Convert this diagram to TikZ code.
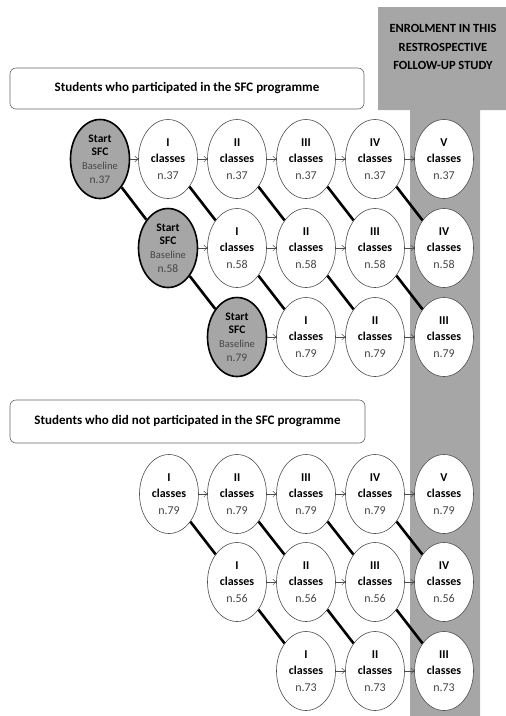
\documentclass[tikz,border=0pt]{standalone}
\usepackage{fontspec}
\setmainfont{Carlito}
\usetikzlibrary{shapes.geometric,arrows.meta}

\definecolor{colgrey}{RGB}{166,166,166}
\definecolor{coltext}{RGB}{70,70,70}

\newcommand{\yrtext}[2]{\textbf{#1}\\\textbf{classes}\\{\color{coltext}n.#2}}
\newcommand{\sfctext}[1]{\textbf{Start}\\\textbf{SFC}\\{\color{coltext}\fontsize{10.5}{13.7}\selectfont Baseline}\\{\color{coltext}n.#1}}

\tikzset{
	yr/.style={ellipse, draw=black!70, line width=0.6pt, fill=white, minimum width=59pt, minimum height=79pt, inner sep=0pt, align=center, font=\fontsize{12}{16.5}\selectfont},
	startyr/.style={yr, draw=black, line width=1.6pt, fill=colgrey, font=\fontsize{11.5}{13.7}\selectfont},
	grouphead/.style={draw=black!60, line width=0.6pt, fill=white, rounded corners=6pt, inner sep=0pt, font=\bfseries\fontsize{13}{15}\selectfont},
	nextyr/.style={-{Straight Barb[length=3pt,width=6pt]}, draw=black!70, line width=0.5pt},
	cohort/.style={draw=black, line width=2.6pt},
}

\begin{document}
\begin{tikzpicture}[x=1pt,y=-1pt]
					\useasboundingbox (0,0) rectangle (506,716);
					\fill[colgrey] (378,7) -- (506,7) -- (506,110) -- (480,110) -- (480,716) -- (410,716) -- (410,110) -- (378,110) -- cycle; % Follow-up column.
					\node[align=center, font=\bfseries\fontsize{12.5}{18.5}\selectfont] (enrol) at (443,47) {ENROLMENT IN THIS\\RESTROSPECTIVE\\FOLLOW-UP STUDY};
					
					\node[grouphead, minimum width=354pt, minimum height=41pt] (grpa) at (187,88.5) {Students who participated in the SFC programme};
					\node[grouphead, minimum width=355pt, minimum height=43pt] (grpb) at (187.5,421.5) {Students who did not participated in the SFC programme};
					
					% SFC cohorts.
					\node[startyr] (a0) at (100,159) {\sfctext{37}};
					\node[yr] (a1) at (168,159) {\yrtext{I}{37}};
					\node[yr] (a2) at (237,159) {\yrtext{II}{37}};
					\node[yr] (a3) at (306,159) {\yrtext{III}{37}};
					\node[yr] (a4) at (375,159) {\yrtext{IV}{37}};
					\node[yr] (a5) at (444,159) {\yrtext{V}{37}};
					
					\node[startyr] (b1) at (168,248) {\sfctext{58}};
					\node[yr] (b2) at (237,248) {\yrtext{I}{58}};
					\node[yr] (b3) at (306,248) {\yrtext{II}{58}};
					\node[yr] (b4) at (375,248) {\yrtext{III}{58}};
					\node[yr] (b5) at (444,248) {\yrtext{IV}{58}};
					
					\node[startyr] (c2) at (237,337) {\sfctext{79}};
					\node[yr] (c3) at (306,337) {\yrtext{I}{79}};
					\node[yr] (c4) at (375,337) {\yrtext{II}{79}};
					\node[yr] (c5) at (444,337) {\yrtext{III}{79}};
					
					% Control cohorts.
					\node[yr] (d1) at (169,494) {\yrtext{I}{79}};
					\node[yr] (d2) at (237,494) {\yrtext{II}{79}};
					\node[yr] (d3) at (306,494) {\yrtext{III}{79}};
					\node[yr] (d4) at (375,494) {\yrtext{IV}{79}};
					\node[yr] (d5) at (444,494) {\yrtext{V}{79}};
					
					\node[yr] (e2) at (237,582) {\yrtext{I}{56}};
					\node[yr] (e3) at (306,582) {\yrtext{II}{56}};
					\node[yr] (e4) at (375,582) {\yrtext{III}{56}};
					\node[yr] (e5) at (444,582) {\yrtext{IV}{56}};
					
					\node[yr] (f3) at (306,671) {\yrtext{I}{73}};
					\node[yr] (f4) at (375,671) {\yrtext{II}{73}};
					\node[yr] (f5) at (444,671) {\yrtext{III}{73}};
					
					\draw[nextyr] (a0) -- (a1); \draw[nextyr] (a1) -- (a2); \draw[nextyr] (a2) -- (a3); \draw[nextyr] (a3) -- (a4); \draw[nextyr] (a4) -- (a5);
					\draw[nextyr] (b1) -- (b2); \draw[nextyr] (b2) -- (b3); \draw[nextyr] (b3) -- (b4); \draw[nextyr] (b4) -- (b5);
					\draw[nextyr] (c2) -- (c3); \draw[nextyr] (c3) -- (c4); \draw[nextyr] (c4) -- (c5);
					\draw[nextyr] (d1) -- (d2); \draw[nextyr] (d2) -- (d3); \draw[nextyr] (d3) -- (d4); \draw[nextyr] (d4) -- (d5);
					\draw[nextyr] (e2) -- (e3); \draw[nextyr] (e3) -- (e4); \draw[nextyr] (e4) -- (e5);
					\draw[nextyr] (f3) -- (f4); \draw[nextyr] (f4) -- (f5);
					
					\draw[cohort] (a0) -- (b1); \draw[cohort] (a1) -- (b2); \draw[cohort] (a2) -- (b3); \draw[cohort] (a3) -- (b4); \draw[cohort] (a4) -- (b5);
					\draw[cohort] (b1) -- (c2); \draw[cohort] (b2) -- (c3); \draw[cohort] (b3) -- (c4); \draw[cohort] (b4) -- (c5);
					\draw[cohort] (d1) -- (e2); \draw[cohort] (d2) -- (e3); \draw[cohort] (d3) -- (e4); \draw[cohort] (d4) -- (e5);
					\draw[cohort] (e2) -- (f3); \draw[cohort] (e3) -- (f4); \draw[cohort] (e4) -- (f5);
				\end{tikzpicture}
\end{document}
